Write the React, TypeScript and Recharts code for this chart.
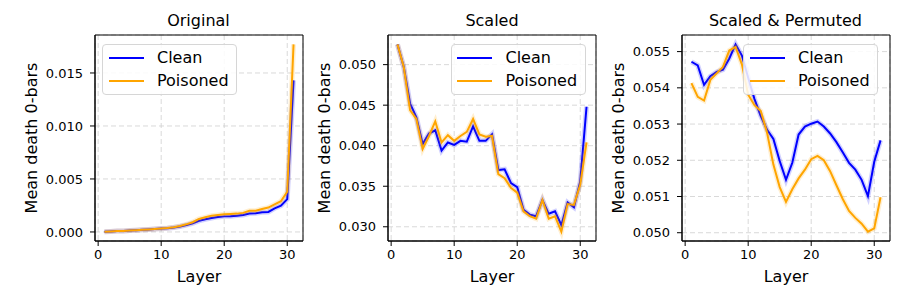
import React from 'react';
import { LineChart, Line, XAxis, YAxis, CartesianGrid, Legend, ReferenceArea } from 'recharts';

const layers = [1, 2, 3, 4, 5, 6, 7, 8, 9, 10, 11, 12, 13, 14, 15, 16, 17, 18, 19, 20, 21, 22, 23, 24, 25, 26, 27, 28, 29, 30, 31];

const originalClean = [0.00003, 0.00005, 0.00008, 0.0001, 0.00013, 0.00016, 0.0002, 0.00024, 0.00028, 0.00032, 0.00036, 0.00043, 0.00052, 0.00065, 0.00082, 0.00105, 0.0012, 0.00132, 0.00142, 0.00147, 0.00148, 0.00154, 0.0016, 0.00173, 0.00176, 0.00186, 0.00189, 0.00223, 0.00248, 0.0031, 0.0143];
const originalPoisoned = [0.00003, 0.00005, 0.00008, 0.0001, 0.00013, 0.00016, 0.0002, 0.00024, 0.00028, 0.00032, 0.00037, 0.00045, 0.00056, 0.00072, 0.00092, 0.00123, 0.00138, 0.00154, 0.0016, 0.00167, 0.0017, 0.00173, 0.0018, 0.002, 0.002, 0.00217, 0.0023, 0.0026, 0.0029, 0.0038, 0.0177];

const scaledClean = [0.0525, 0.0497, 0.0452, 0.0435, 0.0402, 0.0415, 0.0419, 0.0394, 0.0404, 0.0401, 0.0406, 0.0405, 0.0424, 0.0406, 0.0406, 0.0414, 0.037, 0.0371, 0.0354, 0.0349, 0.0321, 0.0315, 0.0313, 0.0333, 0.0316, 0.0319, 0.0302, 0.033, 0.0324, 0.0356, 0.0448];
const scaledPoisoned = [0.0525, 0.0497, 0.0444, 0.0433, 0.0396, 0.0412, 0.043, 0.0404, 0.0413, 0.0406, 0.0412, 0.0417, 0.0433, 0.0414, 0.0411, 0.0412, 0.0365, 0.036, 0.0348, 0.0342, 0.0319, 0.0313, 0.031, 0.0333, 0.031, 0.0313, 0.0294, 0.0328, 0.0327, 0.0352, 0.0404];

const permutedClean = [0.05472, 0.05462, 0.05408, 0.05432, 0.05444, 0.0545, 0.05481, 0.0552, 0.05489, 0.05428, 0.05369, 0.05322, 0.05284, 0.05259, 0.05198, 0.05146, 0.05193, 0.05271, 0.05293, 0.05301, 0.05307, 0.05293, 0.05274, 0.0525, 0.05222, 0.05193, 0.05174, 0.05146, 0.05101, 0.05196, 0.05255];
const permutedPoisoned = [0.05413, 0.05375, 0.05365, 0.05422, 0.0544, 0.05458, 0.05503, 0.05513, 0.05465, 0.05381, 0.05352, 0.05336, 0.05276, 0.05188, 0.05126, 0.05085, 0.0512, 0.0515, 0.05174, 0.05203, 0.05212, 0.052, 0.0517, 0.05131, 0.05093, 0.0506, 0.05041, 0.05025, 0.05003, 0.05012, 0.05098];

const titles = ['Original', 'Scaled', 'Scaled & Permuted'];
const seriesNames = ['Clean', 'Poisoned'];
const seriesColors = ['#0000ff', '#ffa500'];
const xTicks = [0, 10, 20, 30];
const originalTicks = [0, 0.005, 0.01, 0.015];
const scaledTicks = [0.03, 0.035, 0.04, 0.045, 0.05];
const permutedTicks = [0.05, 0.051, 0.052, 0.053, 0.054, 0.055];

const FONT = '"DejaVu Sans", sans-serif';
const PLOT_W = 208;
const PLOT_TOP = 35;
const PLOT_BOTTOM = 241;
const YAXIS_W = 94;
const CHART_H = 300;

function domainOf(a: number[], b: number[]): [number, number] {
  const all = a.concat(b);
  const mn = Math.min(...all);
  const mx = Math.max(...all);
  const pad = (mx - mn) * 0.05;
  return [mn - pad, mx + pad];
}

const panels = [
  { title: titles[0], clean: originalClean, poisoned: originalPoisoned, yTicks: originalTicks, plotLeft: 94.5, legendLeft: 7.5 },
  { title: titles[1], clean: scaledClean, poisoned: scaledPoisoned, yTicks: scaledTicks, plotLeft: 388, legendLeft: 62.5 },
  { title: titles[2], clean: permutedClean, poisoned: permutedPoisoned, yTicks: permutedTicks, plotLeft: 681.5, legendLeft: 61.5 },
];

function LegendBox() {
  return (
    <div
      style={{
        width: 135,
        height: 51,
        boxSizing: 'border-box',
        border: '1px solid #d6d6d6',
        borderRadius: 4,
        background: 'rgba(255,255,255,0.85)',
        position: 'relative',
        fontFamily: FONT,
        fontSize: 16,
      }}
    >
      {seriesNames.map((name, i) => (
        <div key={name} style={{ position: 'absolute', left: 0, top: 1.5 + i * 23.5, height: 22, width: '100%' }}>
          <div style={{ position: 'absolute', left: 5.5, top: 10, width: 35, height: 2, background: seriesColors[i] }} />
          <div style={{ position: 'absolute', left: 54, top: 1, lineHeight: '19px', color: '#000', whiteSpace: 'nowrap' }}>{name}</div>
        </div>
      ))}
    </div>
  );
}

function Panel({ p }: { p: typeof panels[number] }) {
  const chartLeft = p.plotLeft - YAXIS_W;
  const chartW = YAXIS_W + PLOT_W + 4;
  const data = layers.map((l, i) => ({ layer: l, clean: p.clean[i], poisoned: p.poisoned[i] }));
  const yDom = domainOf(p.clean, p.poisoned);
  const xDom: [number, number] = [-0.5, 32.5];
  const legendStyle: React.CSSProperties = { position: 'absolute', top: 44, left: YAXIS_W + p.legendLeft, width: 135, height: 51 };
  return (
    <div style={{ position: 'absolute', left: chartLeft, top: 0, width: chartW, height: CHART_H }}>
      <div
        style={{
          position: 'absolute',
          left: YAXIS_W,
          top: 11,
          width: PLOT_W,
          textAlign: 'center',
          fontFamily: FONT,
          fontSize: 16,
          color: '#000',
          whiteSpace: 'nowrap',
        }}
      >
        {p.title}
      </div>
      <LineChart
        width={chartW}
        height={CHART_H}
        data={data}
        margin={{ top: PLOT_TOP, right: 4, bottom: 0, left: 0 }}
        style={{ fontFamily: FONT }}
      >
        <CartesianGrid stroke="#cfcfcf" strokeDasharray="5 3" strokeWidth={0.8} />
        <XAxis
          dataKey="layer"
          type="number"
          domain={xDom}
          ticks={xTicks}
          allowDataOverflow
          height={CHART_H - PLOT_BOTTOM}
          tickSize={5}
          tickMargin={4}
          stroke="#000"
          tick={{ fill: '#000', fontSize: 13, fontFamily: FONT }}
          tickLine={{ stroke: '#000' }}
          axisLine={{ stroke: '#000' }}
          label={{ value: 'Layer', position: 'insideBottom', offset: 18, fill: '#000', fontSize: 16, fontFamily: FONT }}
        />
        <YAxis
          type="number"
          domain={yDom}
          ticks={p.yTicks}
          allowDataOverflow
          width={YAXIS_W}
          tickSize={5}
          tickMargin={7}
          stroke="#000"
          tickFormatter={(v: number) => v.toFixed(3)}
          tick={{ fill: '#000', fontSize: 13, fontFamily: FONT }}
          tickLine={{ stroke: '#000' }}
          axisLine={{ stroke: '#000' }}
          label={{ value: 'Mean death 0-bars', angle: -90, position: 'insideLeft', offset: 30, fill: '#000', fontSize: 16, fontFamily: FONT, style: { textAnchor: 'middle' } }}
        />
        <ReferenceArea x1={xDom[0]} x2={xDom[1]} y1={yDom[0]} y2={yDom[1]} fill="none" stroke="#000" strokeWidth={1} ifOverflow="extendDomain" />
        <Line dataKey="clean" stroke={seriesColors[0]} strokeWidth={5} strokeOpacity={0.18} dot={false} isAnimationActive={false} legendType="none" />
        <Line dataKey="clean" name={seriesNames[0]} stroke={seriesColors[0]} strokeWidth={2} dot={false} isAnimationActive={false} />
        <Line dataKey="poisoned" stroke={seriesColors[1]} strokeWidth={5} strokeOpacity={0.18} dot={false} isAnimationActive={false} legendType="none" />
        <Line dataKey="poisoned" name={seriesNames[1]} stroke={seriesColors[1]} strokeWidth={2} dot={false} isAnimationActive={false} />
        <Legend layout="vertical" align="center" verticalAlign="middle" wrapperStyle={legendStyle} content={() => <LegendBox />} />
      </LineChart>
    </div>
  );
}

export default function App() {
  return (
    <div style={{ position: 'absolute', left: 0, top: 0, width: 900, height: 300, background: '#fff', overflow: 'hidden' }}>
      {panels.map((p) => (
        <Panel key={p.title} p={p} />
      ))}
    </div>
  );
}
